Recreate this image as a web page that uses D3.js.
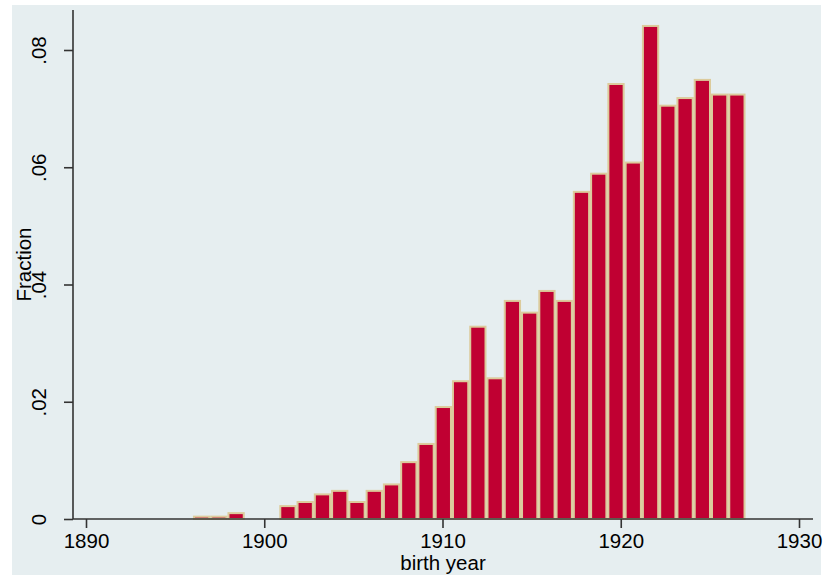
<!DOCTYPE html>
<html>
<head>
<meta charset="utf-8">
<script src="https://cdn.jsdelivr.net/npm/d3@7/dist/d3.min.js"></script>
<style>
  html, body { margin: 0; padding: 0; background: #ffffff; }
  svg { display: block; }
  text { font-family: "Liberation Sans", Arial, Helvetica, sans-serif; fill: #000; }
</style>
</head>
<body>
<svg id="chart" width="825" height="575"></svg>
<script>
// ---- Data ----
const yearMin = 1896;
const yearMax = 1927;
const binCount = 32;
// fraction per bin, one per birth year 1896..1927
const fractions = [
  0.0004, 0.0004, 0.0010, 0.0000, 0.0000,
  0.0022, 0.0029, 0.0042, 0.0048, 0.0029,
  0.0048, 0.0059, 0.0097, 0.0128, 0.0191,
  0.0235, 0.0328, 0.0240, 0.0372, 0.0352,
  0.0389, 0.0372, 0.0558, 0.0589, 0.0742,
  0.0608, 0.0841, 0.0705, 0.0718, 0.0749,
  0.0724, 0.0724
];
const xTicks = [1890, 1900, 1910, 1920, 1930];
const yTicks = [0, 0.02, 0.04, 0.06, 0.08];
const yTickLabels = ["0", ".02", ".04", ".06", ".08"];
const xTitle = "birth year";
const yTitle = "Fraction";

// ---- Layout ----
const svg = d3.select("#chart");
svg.append("rect").attr("x", 12).attr("y", 5).attr("width", 809).attr("height", 570)
  .attr("fill", "#e6eef0");

const x = d3.scaleLinear().domain([1890, 1930]).range([86, 799]);
const y = d3.scaleLinear().domain([0, 0.08]).range([519, 50]);
const axisLeftX = 73, axisRightX = 813, axisTopY = 10;
const fs = "20.5px";

const binW = (yearMax - yearMin) / binCount;
const bins = fractions.map((v, i) => ({ x0: yearMin + i * binW, x1: yearMin + (i + 1) * binW, v }));

// bars
svg.append("g").selectAll("rect").data(bins.filter(d => d.v > 0)).join("rect")
  .attr("x", d => x(d.x0) + 1)
  .attr("width", d => x(d.x1) - x(d.x0) - 2)
  .attr("y", d => y(d.v))
  .attr("height", d => Math.max(0, y(0) - y(d.v)))
  .attr("fill", "#c00032")
  .attr("stroke", "#dccb9c")
  .attr("stroke-width", 2);

// x axis
const gx = svg.append("g").attr("transform", `translate(0,${y(0)})`)
  .call(d3.axisBottom(x).tickValues(xTicks).tickFormat(d3.format("d")).tickSize(9).tickPadding(5));
gx.select(".domain").remove();
gx.selectAll(".tick line").attr("stroke", "#333").attr("stroke-width", 1.6);
gx.selectAll(".tick text").attr("font-size", fs).attr("fill", "#000")
  .attr("font-family", "Liberation Sans, Arial, sans-serif");
svg.append("line").attr("x1", axisLeftX).attr("x2", axisRightX)
  .attr("y1", y(0)).attr("y2", y(0)).attr("stroke", "#333").attr("stroke-width", 1.6);

// y axis
const gy = svg.append("g").attr("transform", `translate(${axisLeftX},0)`)
  .call(d3.axisLeft(y).tickValues(yTicks).tickFormat((d, i) => yTickLabels[i]).tickSize(9));
gy.select(".domain").remove();
gy.selectAll(".tick line").attr("stroke", "#333").attr("stroke-width", 1.6);
gy.selectAll(".tick text")
  .attr("font-size", fs).attr("fill", "#000")
  .attr("font-family", "Liberation Sans, Arial, sans-serif")
  .attr("x", null).attr("dy", null)
  .attr("text-anchor", "middle")
  .attr("transform", "translate(-27,0) rotate(-90)");
svg.append("line").attr("x1", axisLeftX).attr("x2", axisLeftX)
  .attr("y1", y(0)).attr("y2", axisTopY).attr("stroke", "#333").attr("stroke-width", 1.6);

// titles
svg.append("text").attr("x", (axisLeftX + axisRightX) / 2).attr("y", 570)
  .attr("text-anchor", "middle").attr("font-size", fs).text(xTitle);
svg.append("text").attr("transform", `translate(31,${(y(0) + axisTopY) / 2}) rotate(-90)`)
  .attr("text-anchor", "middle").attr("font-size", fs).text(yTitle);
</script>
</body>
</html>
